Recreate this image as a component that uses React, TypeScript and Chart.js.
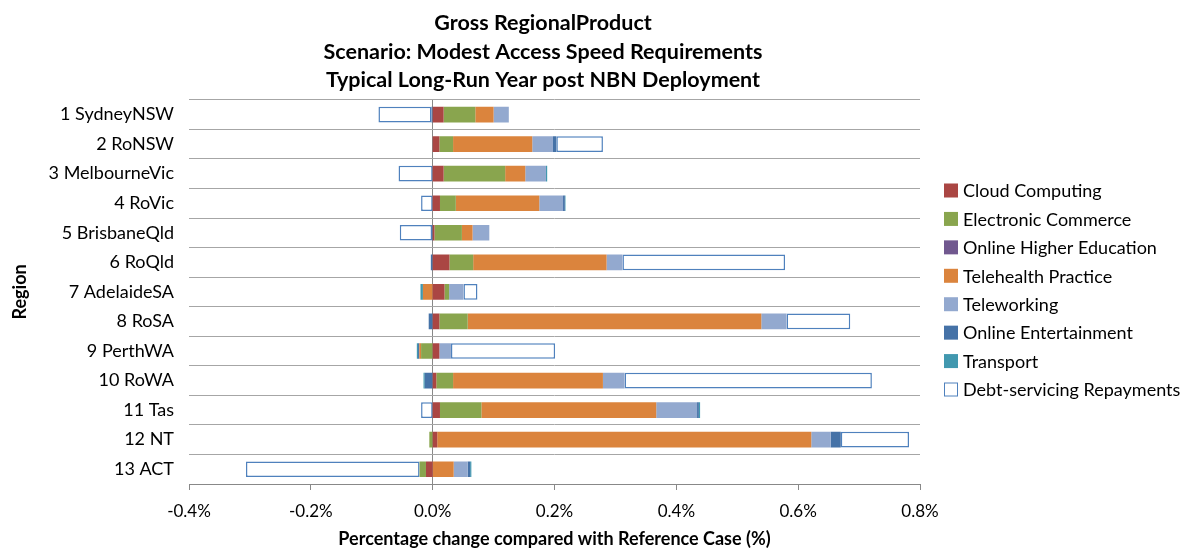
import React, { useEffect, useRef } from "react";
import { Chart, registerables } from "chart.js";

Chart.register(...registerables);

const regions = [
  "1 SydneyNSW", "2 RoNSW", "3 MelbourneVic", "4 RoVic", "5 BrisbaneQld", "6 RoQld",
  "7 AdelaideSA", "8 RoSA", "9 PerthWA", "10 RoWA", "11 Tas", "12 NT", "13 ACT",
];

const cloudComputing = [0.018, 0.011, 0.018, 0.012, 0.003, 0.0275, 0.0195, 0.011, 0.011, 0.006, 0.012, 0.0075, -0.011];
const electronicCommerce = [0.052, 0.0225, 0.101, 0.026, 0.045, 0.039, 0.0075, 0.0465, -0.019, 0.0275, 0.068, -0.0055, -0.0105];
const onlineHigherEducation = [0, 0, 0, 0, 0, 0, 0, 0, 0, 0, 0, 0, 0];
const telehealthPractice = [0.03, 0.13, 0.033, 0.137, 0.0175, 0.219, -0.016, 0.482, -0.003, 0.246, 0.287, 0.614, 0.0345];
const teleworking = [0.025, 0.034, 0.034, 0.039, 0.0275, 0.026, 0.0235, 0.0415, 0.019, 0.0355, 0.067, 0.032, 0.023];
const onlineEntertainment = [-0.002, 0.0055, 0, 0.003, -0.001, -0.003, 0, -0.0065, -0.002, -0.013, 0.003, 0.0165, 0.004];
const transport = [0, 0, 0.002, 0.001, 0, 0, -0.004, 0, -0.002, -0.002, 0.002, 0, 0.002];
const debtServicing = [-0.087, 0.0765, -0.056, -0.019, -0.053, 0.267, 0.023, 0.1045, 0.171, 0.406, -0.019, 0.112, -0.285];

const titleLines = [
  "Gross RegionalProduct",
  "Scenario: Modest Access Speed Requirements",
  "Typical Long-Run Year post NBN Deployment",
];
const xTitle = "Percentage change compared with Reference Case (%)";
const yTitle = "Region";

const FONT = "Lato";

const sideLegend = {
  id: "sideLegend",
  afterDraw(chart: any) {
    const ctx = chart.ctx;
    const x0 = chart.chartArea.right + 24;
    const top = 190.5;
    const step = 28.43;
    ctx.save();
    ctx.font = `18px ${FONT}`;
    ctx.textBaseline = "middle";
    ctx.textAlign = "left";
    chart.data.datasets.forEach((ds: any, i: number) => {
      const y = top + i * step;
      ctx.fillStyle = ds.backgroundColor;
      ctx.fillRect(x0, y - 7, 14, 14);
      if (ds.borderWidth) {
        ctx.strokeStyle = ds.borderColor;
        ctx.lineWidth = 1;
        ctx.strokeRect(x0 + 0.5, y - 6.5, 13, 13);
      }
      ctx.fillStyle = "#000";
      ctx.fillText(ds.label, x0 + 19, y + 1);
    });
    ctx.restore();
  },
};

export default function App() {
  const ref = useRef<HTMLCanvasElement>(null);
  useEffect(() => {
    if (!ref.current) return;
    const mk = (label: string, data: number[], color: string) => ({
      label,
      data,
      backgroundColor: color,
      borderWidth: 0,
      barPercentage: 0.53,
      categoryPercentage: 1,
      yAxisID: "y",
      xAxisID: "x",
    });
    const chart = new Chart(ref.current, {
      type: "bar",
      data: {
        labels: regions,
        datasets: [
          mk("Cloud Computing", cloudComputing, "#AA4643"),
          mk("Electronic Commerce", electronicCommerce, "#89A54E"),
          mk("Online Higher Education", onlineHigherEducation, "#71588F"),
          mk("Telehealth Practice", telehealthPractice, "#DB843D"),
          mk("Teleworking", teleworking, "#93A9CF"),
          mk("Online Entertainment", onlineEntertainment, "#4572A7"),
          mk("Transport", transport, "#4198AF"),
          {
            label: "Debt-servicing Repayments",
            data: debtServicing,
            backgroundColor: "#FFFFFF",
            borderColor: "#4F81BD",
            borderWidth: 1.5,
            borderSkipped: false,
            barPercentage: 0.53,
            categoryPercentage: 1,
            yAxisID: "y",
            xAxisID: "x",
          } as any,
        ],
      },
      options: {
        indexAxis: "y",
        responsive: false,
        animation: false,
        devicePixelRatio: 1,
        layout: { padding: { left: 0, right: 106, top: 0, bottom: 0 } },
        font: { family: FONT },
        plugins: {
          legend: { display: false },
          tooltip: { enabled: false },
          title: {
            display: true,
            text: titleLines,
            color: "#000",
            font: { family: FONT, size: 21.5, weight: "bold", lineHeight: 1.33 },
            padding: { top: 9, bottom: 5 },
          },
        },
        scales: {
          x: {
            stacked: true,
            min: -0.4,
            max: 0.8,
            afterFit: (s: any) => { s.height = 67; },
            ticks: {
              stepSize: 0.2,
              color: "#000",
              font: { family: FONT, size: 17 },
              padding: 11,
              callback: (v: any) => `${Number(v).toFixed(1)}%`,
            },
            grid: {
              color: (c: any) => (c.tick && Math.abs(c.tick.value) < 1e-9 ? "#888888" : "rgba(0,0,0,0)"),
              tickColor: "#888888",
              tickLength: 6,
              lineWidth: 1,
            },
            border: { display: true, color: "#888888" },
            title: {
              display: true,
              text: xTitle,
              color: "#000",
              font: { family: FONT, size: 18, weight: "bold" },
              padding: { top: 0, bottom: 1 },
            },
          },
          y: {
            stacked: true,
            afterFit: (s: any) => { s.width = 189; },
            ticks: {
              color: "#000",
              font: { family: FONT, size: 18 },
              padding: 15,
            },
            grid: {
              offset: true,
              color: "#A6A6A6",
              lineWidth: 1,
              drawTicks: false,
            },
            border: { display: false },
            title: {
              display: true,
              text: yTitle,
              color: "#000",
              font: { family: FONT, size: 18, weight: "bold" },
              padding: { top: 9, bottom: 0 },
            },
          },
          legendSpace: {
            type: "category",
            axis: "y",
            position: "right",
            display: true,
            afterFit: (s: any) => { s.width = 166; },
            ticks: { display: false },
            grid: { display: false, drawTicks: false },
            border: { display: false },
          },
        },
      },
      plugins: [sideLegend],
    } as any);
    return () => chart.destroy();
  }, []);
  return (
    <div style={{ position: "fixed", left: 0, top: 0, width: 1192, height: 551, background: "#fff" }}>
      <canvas ref={ref} width={1192} height={551} />
    </div>
  );
}
